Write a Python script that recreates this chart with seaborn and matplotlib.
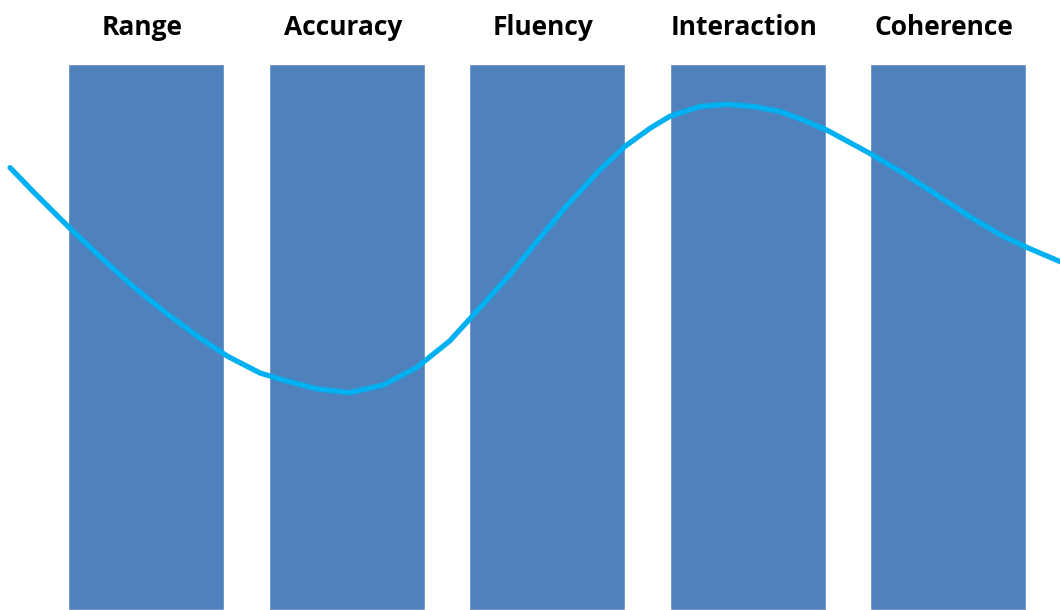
import matplotlib
matplotlib.use("Agg")
import matplotlib.pyplot as plt
import seaborn as sns

# Kategorier och stapelhöjder (alla staplar lika höga)
kategorier = ["Range", "Accuracy", "Fluency", "Interaction", "Coherence"]
stapel_hojd = [100, 100, 100, 100, 100]

# Kurvan (x i kategorienheter, y i samma skala som staplarna)
kurva_x = [-0.680, -0.564, -0.373, -0.231, -0.065, 0.101, 0.267, 0.408, 0.567,
           0.683, 0.849, 1.015, 1.182, 1.348, 1.514, 1.680, 1.813, 1.930, 2.096,
           2.262, 2.387, 2.512, 2.611, 2.761, 2.894, 3.027, 3.160, 3.276, 3.393,
           3.609, 3.775, 3.942, 4.108, 4.274, 4.398, 4.557]
kurva_y = [81.0, 76.6, 69.6, 64.7, 59.2, 54.3, 49.8, 46.4, 43.4,
           42.1, 40.5, 39.8, 41.2, 44.4, 49.3, 56.0, 61.4, 66.7, 74.0,
           80.6, 84.9, 88.2, 90.4, 92.2, 92.6, 92.2, 91.3, 89.7, 87.9,
           83.6, 80.0, 76.0, 72.0, 68.4, 66.3, 63.8]

sns.set_theme(style="white")
plt.rcParams["font.family"] = ["Open Sans", "DejaVu Sans"]

fig = plt.figure(figsize=(10.6, 6.1), dpi=100)
ax = fig.add_axes([0, 0, 1, 1])
sns.barplot(x=kategorier, y=stapel_hojd, color="#4F81BD", saturation=1,
            width=0.778, ax=ax)
xlim = (-0.730, 4.557)
ylim = (0, 111.7)
ax.set_xlim(xlim)
ax.set_ylim(ylim)
ax.axis("off")

# Eget lager för kurvan och rubrikerna
ax2 = fig.add_axes([0, 0, 1, 1])
ax2.patch.set_alpha(0)
sns.lineplot(x=kurva_x, y=kurva_y, sort=False, color="#00B0F0", linewidth=3.8,
             ax=ax2)
ax2.lines[0].set_solid_joinstyle("round")
for i, namn in enumerate(kategorier):
    ax2.text(i - 0.02, 105.3, namn, ha="center", va="baseline", fontsize=19,
             fontweight="bold", color="black")
ax2.set_xlim(xlim)
ax2.set_ylim(ylim)
ax2.axis("off")

fig.savefig("out.png", dpi=100)
